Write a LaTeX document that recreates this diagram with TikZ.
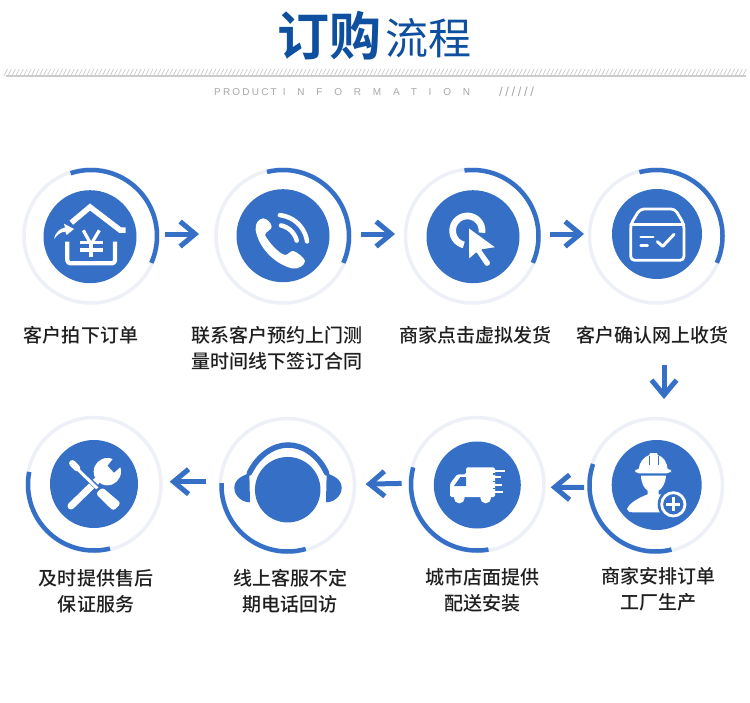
\documentclass[tikz,border=0pt]{standalone}
\usepackage{fontspec}
\usetikzlibrary{arrows.meta}
\newfontfamily\cjk{Noto Sans CJK SC Medium}
\newfontfamily\cjkr{Noto Sans CJK SC}
\newfontfamily\cjkb{Noto Sans CJK SC Bold}
\setmainfont{Liberation Sans}
\definecolor{bluemain}{HTML}{3570C6}
\definecolor{ringgrey}{HTML}{EDF0F6}
\definecolor{titleblue}{HTML}{0F4F9F}
\definecolor{stripegrey}{HTML}{CCCCCC}
\newcommand\blueArc[5]{\draw[bluearc] plot[domain=#4:#5,samples=60] ({#1+#2*cos(\x)},{#3-#2*sin(\x)});}
\tikzset{
  ring/.style={circle,draw=ringgrey,line width=3.5bp,minimum size=134bp,inner sep=0pt},
  disc/.style={circle,fill=bluemain,inner sep=0pt},
  bluearc/.style={draw=bluemain,line width=4.5bp},
  flow/.style={draw=bluemain,line width=5bp,-{Straight Barb[length=15bp,width=25bp,line width=5bp]}},
  lbl/.style={font=\cjk\fontsize{19bp}{26bp}\selectfont,text=black!88,align=center,inner sep=0pt},
  ico/.style={draw=white,line width=#1,line cap=round,line join=round},
  zA/.style={shift={(10,155)},scale=0.33333},
  zB/.style={shift={(380,155)},scale=0.33333},
  zC/.style={shift={(10,405)},scale=0.33333},
  crop/.style={shift={#1},scale=0.33333},
}
\begin{document}
\begin{tikzpicture}[x=1bp,y=-1bp]
\useasboundingbox (0,0) rectangle (750,703);
\fill[white] (0,0) rectangle (750,703);
% header
\node[inner sep=0pt,text=titleblue,font=\cjkb\fontsize{52bp}{52bp}\selectfont] (t1) at (329,35.5) {订购};
\node[inner sep=0pt,text=titleblue,font=\cjkr\fontsize{43bp}{43bp}\selectfont] (t2) at (428,38) {流程};
\foreach \i in {0,...,188} \draw[stripegrey,line width=.7bp] ({4+3.93*\i},76) -- ({7.5+3.93*\i},69);
\draw[stripegrey,line width=1.2bp] (6,76) -- (746,76);
\node[inner sep=0pt,anchor=west,text=black!34,font=\fontsize{10bp}{10bp}\selectfont] (t3) at (214,92) {\addfontfeature{LetterSpace=22}PRODUCT\hspace{6bp}\addfontfeature{LetterSpace=118}INFORMATION};
\node[inner sep=0pt,anchor=west,text=black!34,font=\fontsize{13bp}{13bp}\selectfont] (t4) at (499,92) {\addfontfeature{LetterSpace=20}//////};
% rings
\node[ring] (r1) at (91,236) {};
\node[ring] (r2) at (283,236) {};
\node[ring] (r3) at (472.5,236) {};
\node[ring] (r4) at (656.5,236) {};
\node[ring] (r5) at (94,484.5) {};
\node[ring] (r6) at (287.5,485.5) {};
\node[ring] (r7) at (477,484.5) {};
\node[ring] (r8) at (655.5,485.5) {};
\blueArc{91}{66}{236}{-24}{108}
\blueArc{283}{66}{236}{-24}{104}
\blueArc{472.5}{66}{236}{-24}{97}
\blueArc{656.5}{66}{236}{-24}{105}
\blueArc{94}{66}{484.5}{169}{284}
\blueArc{287.5}{66}{485.5}{178}{286}
\blueArc{477}{66}{484.5}{165}{280}
\blueArc{655.5}{66}{485.5}{161}{284}
% discs
\node[disc,minimum size=93bp] (d1) at (90,236.7) {};
\node[disc,minimum size=93bp] (d2) at (283,235.7) {};
\node[disc,minimum size=93bp] (d3) at (473,236.7) {};
\node[disc,minimum size=90bp] (d4) at (657,234) {};
\node[disc,minimum size=88bp] (d5) at (94,484) {};
\node[disc,minimum size=65.5bp] (d6) at (287.7,489.7) {};
\node[disc,minimum size=87bp] (d7) at (477.3,485) {};
\node[disc,minimum size=90bp] (d8) at (656.7,485) {};
% connectors
\draw[flow,shorten <=5.25bp,shorten >=15.25bp] ([yshift=2bp]r1.east) -- ([yshift=2bp]r2.west);
\draw[flow,shorten <=9.25bp,shorten >=8.75bp] ([yshift=2bp]r2.east) -- ([yshift=2bp]r3.west);
\draw[flow,shorten <=8.75bp,shorten >=3.75bp] ([yshift=2bp]r3.east) -- ([yshift=2bp]r4.west);
\draw[flow,shorten <=60.25bp,shorten >=17.75bp] ([xshift=7.5bp]r4.south) -- ([xshift=8.5bp]r8.north);
\draw[flow,shorten <=2.75bp,shorten >=4.95bp] ([yshift=-1.8bp]r8.west) -- ([yshift=-2.8bp]r7.east);
\draw[flow,shorten <=6.55bp,shorten >=9.45bp] ([yshift=1.2bp]r7.west) -- ([yshift=1.2bp]r6.east);
\draw[flow,shorten <=13.05bp,shorten >=6.95bp] ([yshift=3.8bp]r6.west) -- ([yshift=2.8bp]r5.east);
% labels
\node[lbl] (l1) at (81,335) {客户拍下订单};
\node[lbl] (l2) at (276.5,348.5) {联系客户预约上门测\\量时间线下签订合同};
\node[lbl] (l3) at (475,335) {商家点击虚拟发货};
\node[lbl] (l4) at (652.5,335) {客户确认网上收货};
\node[lbl] (l5) at (96,591) {及时提供售后\\保证服务};
\node[lbl] (l6) at (290,591) {线上客服不定\\期电话回访};
\node[lbl] (l7) at (482,590) {城市店面提供\\配送安装};
\node[lbl] (l8) at (658,589.5) {商家安排订单\\工厂生产};
% icon 1 house
\begin{scope}[crop={(40,185)}]
\draw[ico=5.5bp,line cap=butt,line join=miter] (94,113) -- (150,66) -- (240,135) -- (257,135);
\draw[ico=4.2bp,line cap=butt,rounded corners=3bp] (82,170) -- (82,235) -- (225,235) -- (225,170);
\draw[ico=3.2bp,line cap=butt,line join=miter] (130,136) -- (153,178) -- (178,136);
\draw[ico=3.2bp,line cap=butt] (153,178) -- (153,216) (119,172) -- (188,172) (119,195) -- (188,195);
\fill[white] (42,162) .. controls (46,142) and (60,130) .. (75,128) -- (72,116) -- (102,132) -- (80,150) -- (76,140) .. controls (62,140) and (52,150) .. (42,162) -- cycle;
\end{scope}
% icon 2 phone
\begin{scope}[zA]
\fill[white] (760,190) .. controls (745,192) and (735,205) .. (737,225) .. controls (745,275) and (790,325) .. (845,340) .. controls (865,345) and (885,330) .. (885,318) .. controls (885,310) and (860,290) .. (850,288) .. controls (840,287) and (835,300) .. (825,300) .. controls (805,295) and (775,260) .. (765,240) .. controls (768,228) and (785,225) .. (785,215) .. controls (785,205) and (770,190) .. (760,190) -- cycle;
\draw[ico=4.5bp] plot[domain=8:84,samples=30] ({800+92*cos(\x)},{272-92*sin(\x)});
\draw[ico=4.5bp] plot[domain=14:78,samples=30] ({800+62*cos(\x)},{272-62*sin(\x)});
\end{scope}
% icon 3 cursor
\begin{scope}[crop={(423,185)}]
\draw[ico=6.7bp,line cap=butt] plot[domain=-8:256,samples=50] ({133+44*cos(\x)},{137-44*sin(\x)});
\draw[bluemain,fill=white,line width=1.5bp,line join=round] (135,125) -- (222,188) -- (178,195) -- (203,230) .. controls (207,245) and (188,250) .. (183,240) -- (160,205) -- (136,226) -- cycle;
\end{scope}
% icon 4 box
\begin{scope}[zB]
\draw[ico=2.8bp,rounded corners=4bp] (780,162) -- (885,162) -- (912,208) -- (912,316) -- (752,316) -- (752,208) -- cycle;
\draw[ico=2.8bp] (752,208) -- (912,208);
\draw[ico=2.5bp] (782,246) -- (820,246) (782,271) -- (803,271);
\draw[ico=3bp] (832,260) -- (848,274) -- (882,238);
\end{scope}
% icon 5 tools
\begin{scope}[crop={(45,435)}]
\draw[white,line width=7bp,line cap=round] (78,213) -- (155,138);
\fill[white] (187,110) circle[radius=41];
\fill[bluemain] (188,92) -- (207,113) -- (244,80) -- (216,56) -- cycle;
\draw[bluemain,line width=5bp] (122,125) -- (172,172);
\draw[white,line width=3bp] (90,95) -- (165,168);
\draw[white,line width=6.5bp,line cap=round] (82,85) -- (96,99);
\fill[bluemain,rounded corners=2bp] (172,148) -- (238,205) -- (205,238) -- (143,172) -- cycle;
\fill[white,rounded corners=3bp] (172,157) -- (228,205) -- (205,228) -- (152,176) -- cycle;
\end{scope}
% icon 6 headset
\begin{scope}[zC]
\draw[bluemain,line width=5.5bp,line cap=round] (718,204) .. controls (745,150) and (790,120) .. (834,120) .. controls (880,120) and (925,150) .. (950,204);
\fill[bluemain] (718,205) .. controls (695,212) and (673,225) .. (673,248) .. controls (673,272) and (695,292) .. (720,292) -- cycle;
\fill[bluemain] (950,205) .. controls (973,212) and (995,225) .. (995,248) .. controls (995,272) and (973,292) .. (948,292) -- cycle;
\end{scope}
% icon 7 truck
\begin{scope}[crop={(430,435)}]
\fill[white,rounded corners=1.5bp] (60,186) -- (60,146) -- (82,118) -- (108,118) -- (108,97) -- (195,97) -- (195,186) -- cycle;
\fill[bluemain] (72,153) -- (91,126) -- (108,126) -- (108,153) -- cycle;
\fill[white] (88,189) circle[radius=16] (167,189) circle[radius=16];
\draw[ico=2bp,line cap=butt] (190,107) -- (226,107) (190,127) -- (212,127) (190,150) -- (216,150) (190,172) -- (220,172);
\draw[bluemain,line width=1.2bp] (189,117) -- (196,117) (189,139) -- (196,139) (189,161) -- (196,161);
\end{scope}
% icon 8 worker
\begin{scope}[crop={(607,435)}]
\fill[white] (95,103) .. controls (97,82) and (110,65) .. (127,60) -- (129,54) -- (150,54) -- (152,60) .. controls (170,65) and (180,82) .. (182,103) -- cycle;
\fill[white,rounded corners=4bp] (84,101) -- (192,101) -- (192,115) -- (84,115) -- cycle;
\draw[bluemain,line width=.9bp] (126,62) -- (126,90) (153,62) -- (153,90);
\fill[white] (102,122) .. controls (103,145) and (110,158) .. (122,167) -- (122,178) .. controls (95,188) and (66,205) .. (60,222) .. controls (62,230) and (68,232) .. (80,232) -- (175,232) -- (185,180) -- (155,178) -- (155,167) .. controls (168,158) and (175,145) .. (177,122) -- cycle;
\fill[bluemain] (199,208) circle[radius=47];
\draw[ico=2.8bp] (199,208) circle[radius=35];
\draw[ico=3.4bp,line cap=butt] (178,208) -- (220,208) (199,187) -- (199,229);
\end{scope}
\end{tikzpicture}
\end{document}
